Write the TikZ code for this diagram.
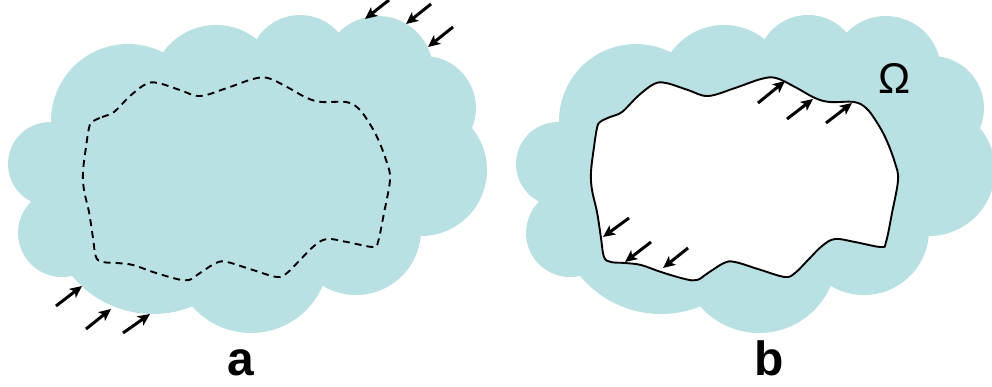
\documentclass[tikz,border=0pt]{standalone}
\usepackage{fontspec}
\setmainfont{Liberation Sans}
\usetikzlibrary{arrows.meta}
\definecolor{cloudcol}{RGB}{185,224,227}
\tikzset{
  cloudfill/.style={fill=cloudcol, draw=none},
  bumparrow/.style={line width=3pt, -{Stealth[length=12pt,width=11pt,inset=3pt]}},
  panellabel/.style={font=\fontsize{48}{48}\selectfont\bfseries, anchor=base, inner sep=0pt},
  omegalabel/.style={font=\fontsize{43}{43}\selectfont, anchor=base, inner sep=0pt}
}
\newcommand{\cloudshape}{%
  \fill[cloudfill] (50,164) circle[radius=42];
  \fill[cloudfill] (62,233) circle[radius=44];
  \fill[cloudfill] (153,209) circle[radius=105];
  \fill[cloudfill] (251,255) circle[radius=78];
  \fill[cloudfill] (356,230) circle[radius=65];
  \fill[cloudfill] (421,170) circle[radius=66];
  \fill[cloudfill] (424,108) circle[radius=52];
  \fill[cloudfill] (378,71) circle[radius=55];
  \fill[cloudfill] (300,66) circle[radius=51];
  \fill[cloudfill] (216,90) circle[radius=65];
  \fill[cloudfill] (128,121) circle[radius=77];
  \fill[cloudfill] (50,164) -- (62,233) -- (153,209) -- (251,255) -- (356,230) -- (421,170) -- (424,108) -- (378,71) -- (300,66) -- (216,90) -- (128,121) -- cycle;
}
\newcommand{\innerloop}{plot[smooth cycle, tension=0.6] coordinates {
  (92,122) (102,117) (114,112) (130,96) (146,84) (158,83) (180,90) (200,96)
  (227,88) (253,79) (268,78) (287,87) (307,98) (322,102) (346,102) (358,108)
  (368,121) (378,139) (387,163) (390,180) (384,213) (378,242) (373,247)
  (347,242) (327,239) (314,246) (300,260) (287,273) (277,277) (253,270) (227,262)
  (216,263) (200,273) (189,280) (177,279) (153,272) (133,265) (117,263) (103,262)
  (96,257) (93,238) (89,212) (84,190) (83,172) (86,147) (89,128)}}
\begin{document}
\begin{tikzpicture}[x=1pt, y=-1pt]
\useasboundingbox (0,0) rectangle (992,386);
\begin{scope}
\clip (0,0) rectangle (992,386);
% panel a
\cloudshape
\draw[line width=1.9pt, dash pattern=on 7pt off 5pt] \innerloop;
% panel b
\begin{scope}[shift={(508,0)}]
\cloudshape
\draw[line width=1.9pt, fill=white] \innerloop;
\end{scope}
\end{scope}
% arrows panel a
\coordinate (a1t) at (389,0);   \coordinate (a1h) at (365,19);
\coordinate (a2t) at (431,4);   \coordinate (a2h) at (406,24);
\coordinate (a3t) at (453,27);  \coordinate (a3h) at (428,47);
\coordinate (a4t) at (56,306);  \coordinate (a4h) at (82,286);
\coordinate (a5t) at (86,329);  \coordinate (a5h) at (111,309);
\coordinate (a6t) at (123,333); \coordinate (a6h) at (150,314);
\draw[bumparrow] (a1t) -- (a1h);
\draw[bumparrow] (a2t) -- (a2h);
\draw[bumparrow] (a3t) -- (a3h);
\draw[bumparrow] (a4t) -- (a4h);
\draw[bumparrow] (a5t) -- (a5h);
\draw[bumparrow] (a6t) -- (a6h);
% arrows panel b
\coordinate (b1t) at (758,103); \coordinate (b1h) at (785,81);
\coordinate (b2t) at (787,119); \coordinate (b2h) at (813,99);
\coordinate (b3t) at (826,123); \coordinate (b3h) at (852,103);
\coordinate (b4t) at (629,218); \coordinate (b4h) at (603,237);
\coordinate (b5t) at (651,242); \coordinate (b5h) at (625,262);
\coordinate (b6t) at (688,248); \coordinate (b6h) at (663,268);
\draw[bumparrow] (b1t) -- (b1h);
\draw[bumparrow] (b2t) -- (b2h);
\draw[bumparrow] (b3t) -- (b3h);
\draw[bumparrow] (b4t) -- (b4h);
\draw[bumparrow] (b5t) -- (b5h);
\draw[bumparrow] (b6t) -- (b6h);
% labels
\node[omegalabel] (omega) at (895,93) {Ω};
\node[panellabel] (la) at (241,375) {a};
\node[panellabel] (lb) at (769,375) {b};
\end{tikzpicture}
\end{document}
